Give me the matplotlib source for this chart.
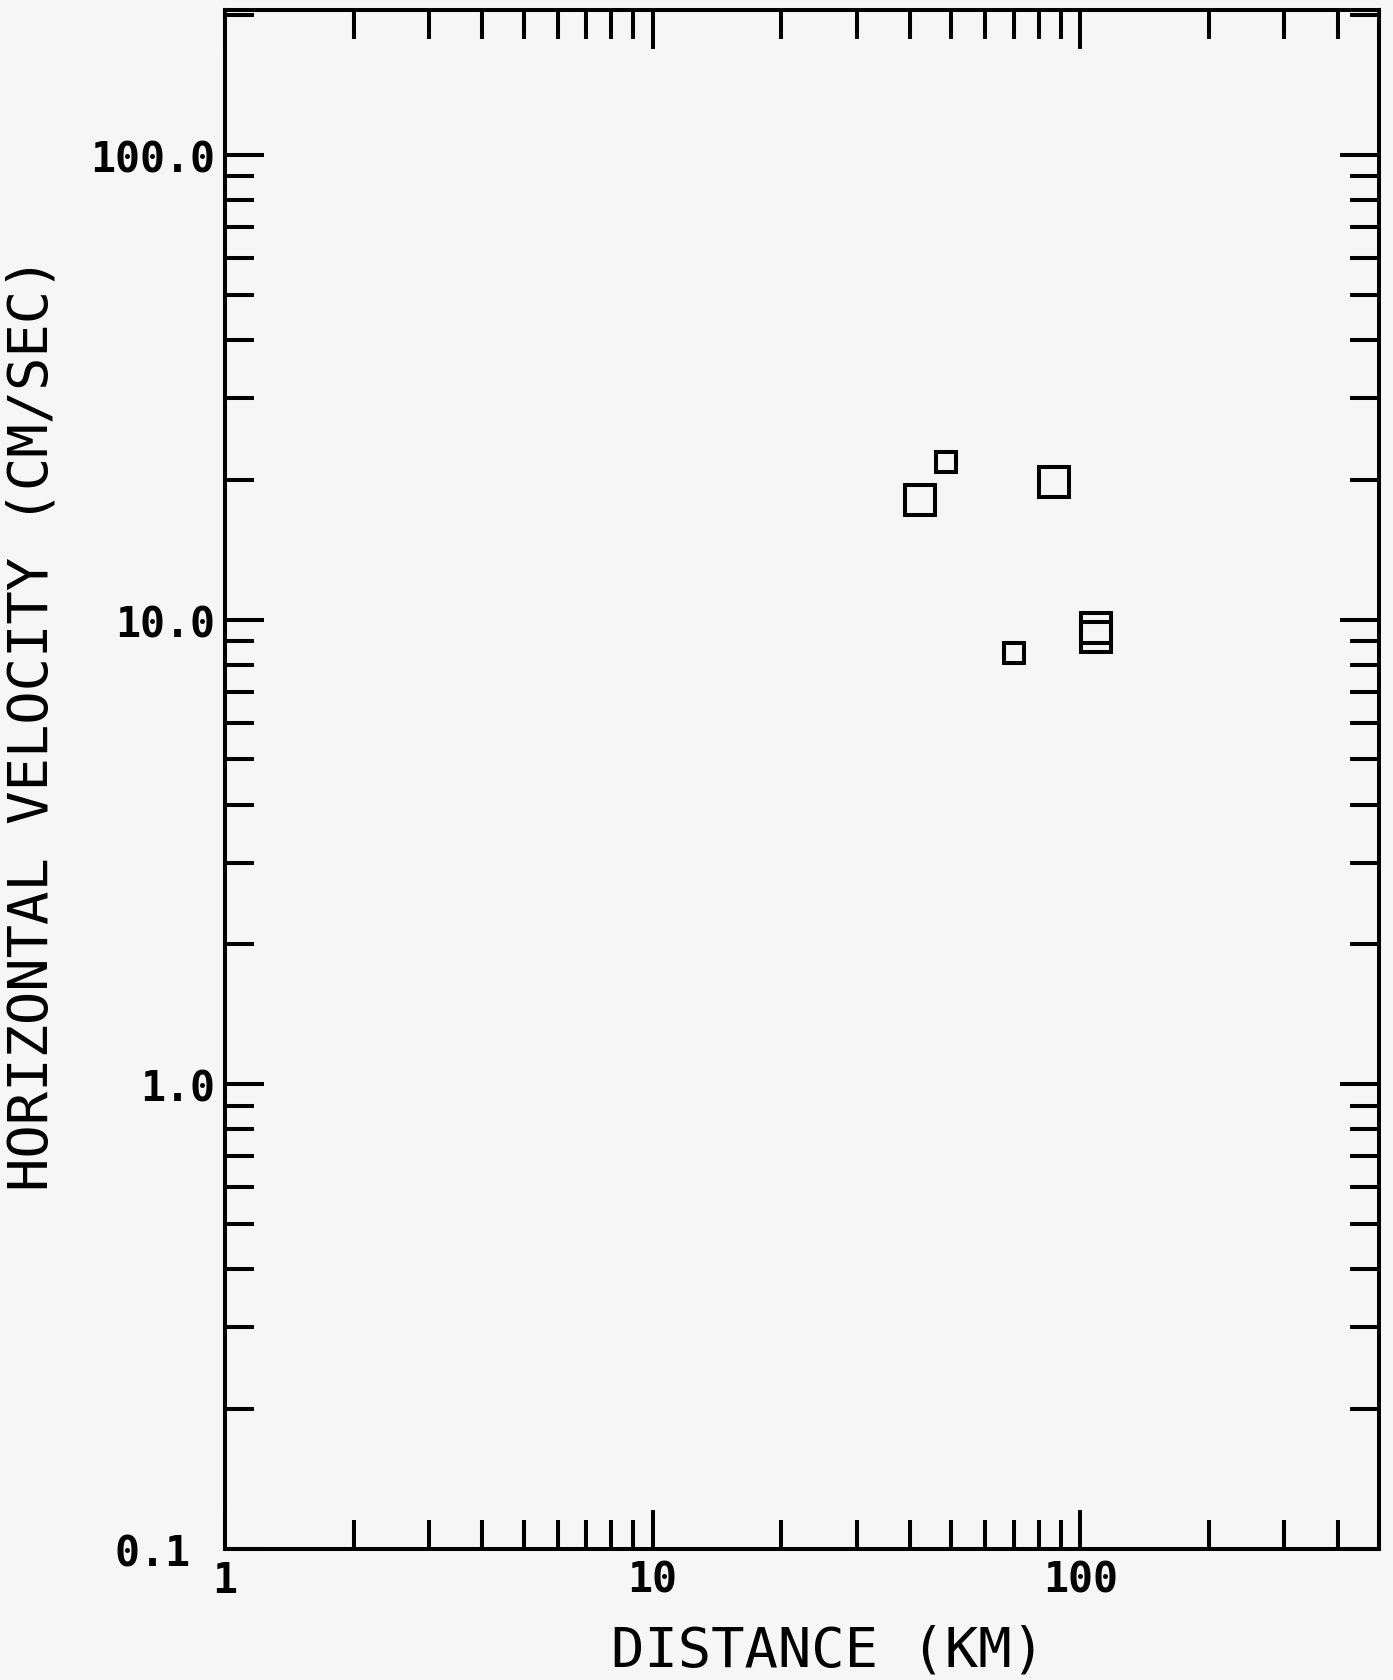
import matplotlib
matplotlib.use('Agg')
import matplotlib.pyplot as plt
from matplotlib.ticker import FixedLocator, NullFormatter

# Data
dist_large = [42.3, 86.7, 109.0, 109.0]
vel_large = [18.1, 19.8, 9.6, 9.17]
dist_small = [48.6, 70.0]
vel_small = [21.8, 8.46]

x_major = [1, 10, 100]
x_labels = ['1', '10', '100']
y_major = [0.1, 1, 10, 100]
y_labels = ['0.1 ', '1.0', '10.0', '100.0']

x_minor = [m * d for d in (1, 10) for m in range(2, 10)] + [200, 300, 400, 500]
y_minor = [m * d for d in (0.1, 1, 10) for m in range(2, 10)] + [200]

plt.rcParams['font.family'] = ['DejaVu Sans Mono']
paper = '#f6f6f6'

fig = plt.figure(figsize=(13.93, 16.81), dpi=100, facecolor=paper)
ax = fig.add_axes([225 / 1393, 131 / 1681, (1379 - 225) / 1393, (1550 - 11) / 1681])
ax.set_facecolor(paper)

ax.set_xscale('log')
ax.set_yscale('log')
ax.set_xlim(1, 500)
ax.set_ylim(0.1, 205)

# open squares, two sizes
ax.plot(dist_large, vel_large, 's', ms=21, mfc='none', mec='black', mew=2.9)
ax.plot(dist_small, vel_small, 's', ms=14, mfc='none', mec='black', mew=2.9)

# Ticks
ax.xaxis.set_major_locator(FixedLocator(x_major))
ax.xaxis.set_minor_locator(FixedLocator(x_minor))
ax.yaxis.set_major_locator(FixedLocator(y_major))
ax.yaxis.set_minor_locator(FixedLocator(y_minor))
ax.set_xticklabels(x_labels)
ax.set_yticklabels(y_labels)
ax.xaxis.set_minor_formatter(NullFormatter())
ax.yaxis.set_minor_formatter(NullFormatter())

ax.tick_params(axis='both', which='both', direction='in', top=True, right=True,
               color='black', width=2.9)
ax.tick_params(axis='both', which='major', length=28, labelsize=30, pad=7)
ax.tick_params(axis='both', which='minor', length=21)
for lab in ax.get_xticklabels() + ax.get_yticklabels():
    lab.set_fontweight('bold')

for s in ax.spines.values():
    s.set_linewidth(2.9)
    s.set_color('black')

# Axis titles
fig.text(828 / 1393, 1 - 1667 / 1681, 'DISTANCE (KM)', fontsize=40,
         ha='center', va='baseline')
fig.text(33 / 1393, 1 - 724 / 1681, 'HORIZONTAL VELOCITY (CM/SEC)', fontsize=40,
         ha='center', va='center', rotation=90)

plt.savefig('out.png', dpi=100, facecolor=paper)
